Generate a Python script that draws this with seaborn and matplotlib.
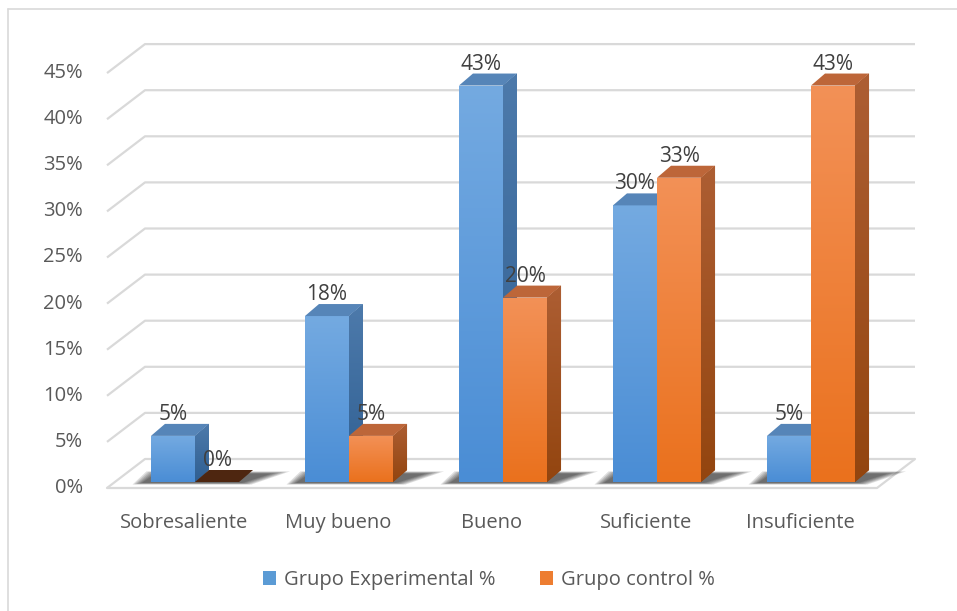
import numpy as np
import pandas as pd
import matplotlib
matplotlib.use("Agg")
import matplotlib.pyplot as plt
import seaborn as sns
from matplotlib.patches import Polygon, Patch
from matplotlib.lines import Line2D
from matplotlib.colors import LinearSegmentedColormap

# ---- data -------------------------------------------------------------
categorias = ["Sobresaliente", "Muy bueno", "Bueno", "Suficiente", "Insuficiente"]
grupos = ["Grupo Experimental %", "Grupo control %"]
experimental = [5, 18, 43, 30, 5]
control = [0, 5, 20, 33, 43]
y_ticks = [0, 5, 10, 15, 20, 25, 30, 35, 40, 45]

df = pd.DataFrame({
    "categoria": categorias * 2,
    "grupo": [grupos[0]] * len(categorias) + [grupos[1]] * len(categorias),
    "valor": experimental + control,
})

# ---- styling ----------------------------------------------------------
sns.set_theme(style="white")
plt.rcParams["font.family"] = ["Open Sans", "DejaVu Sans"]

W, H = 957, 611
PX = 154.0      # pixels per category step
PY = 9.22       # pixels per percentage point
X0, Y0 = 195.0, 482.0   # pixel position of the first category / zero level

# face colours: (front top, front bottom, side top, side bottom, top face)
FACES = [
    ("#74aae1", "#4a8dd5", "#4d7aab", "#2f5f92", "#5685b8"),
    ("#f39157", "#ea711d", "#ad5e33", "#93450f", "#bd6639"),
]
LEGEND_COLORS = ["#5b9bd5", "#ed7d31"]
GRID = "#d9d9d9"
TXT = "#595959"
LBL = "#404040"
FS = 14.5

# depth of each bar and offsets of the front / back walls (data units)
BDX, BDY = 14 / PX, 12 / PY
FX, FY = -11 / PX, -6 / PY
WDX, WDY = 38 / PX, 29 / PY

fig = plt.figure(figsize=(W / 100, H / 100), dpi=100)
ax = fig.add_axes([0, 0, 1, 1])

sns.barplot(data=df, x="categoria", y="valor", hue="grupo",
            palette=LEGEND_COLORS, width=0.572, saturation=1,
            errorbar=None, legend=False, ax=ax, zorder=3)


def gradient_patch(verts, c_top, c_bottom, z):
    poly = Polygon(verts, closed=True, facecolor=c_bottom, edgecolor="none",
                   zorder=z, transform=ax.transData)
    ax.add_patch(poly)
    xs = [v[0] for v in verts]
    ys = [v[1] for v in verts]
    cmap = LinearSegmentedColormap.from_list("g", [c_top, c_bottom])
    im = ax.imshow(np.linspace(0, 1, 256).reshape(-1, 1), cmap=cmap,
                   extent=(min(xs), max(xs), min(ys), max(ys)),
                   origin="upper", aspect="auto", zorder=z,
                   interpolation="bilinear")
    im.set_clip_path(poly)
    return poly


# ---- walls: gridlines and floor ---------------------------------------
n = len(categorias)
fl, fr = -0.5 + FX, n - 0.5 + FX
bl, br = fl + WDX, fr + WDX
for t in y_ticks:
    yf, yb = t + FY, t + FY + WDY
    ax.plot([fl, bl, br], [yf, yb, yb], color=GRID, lw=1.6, zorder=1,
            solid_capstyle="butt")
    ax.annotate(f"{t}%", (fl, yf), xytext=(-24 * 0.72, 0),
                textcoords="offset points", ha="right", va="center",
                fontsize=FS, color=TXT)
ax.plot([fl, fr, br], [FY, FY, FY + WDY], color=GRID, lw=1.6, zorder=1)

for i, cat in enumerate(categorias):
    ax.annotate(cat, (i + FX, FY), xytext=(0, -35 * 0.72),
                textcoords="offset points", ha="center", va="center",
                fontsize=FS, color=TXT)

# ---- soft floor shadows under each pair of bars ----------------------
left_bars = ax.containers[0]
right_bars = ax.containers[1]
for b_l, b_r in zip(left_bars, right_bars):
    xa = b_l.get_x()
    xb = b_r.get_x() + b_r.get_width()
    for k in range(6):
        ex = 0.012 * k
        ey = 0.12 * k
        verts = [(xa - 0.06 - ex, -0.1 - ey * 0.3),
                 (xb + 0.02 + ex, -0.1 - ey * 0.3),
                 (xb + BDX + 0.12 + 2 * ex, BDY * 0.7 + ey * 0.4),
                 (xa + BDX - 0.06 - ex, BDY * 0.7 + ey * 0.4)]
        ax.add_patch(Polygon(verts, closed=True, facecolor="black",
                             edgecolor="none", alpha=0.13, zorder=2))

# ---- bars with depth ---------------------------------------------------
for s, cont in enumerate(ax.containers):
    ftop, fbot, stop, sbot, topc = FACES[s]
    z = 3 + s
    for rect in cont:
        x, w, h = rect.get_x(), rect.get_width(), rect.get_height()
        rect.set_visible(False)
        if h > 0:
            gradient_patch([(x, 0), (x + w, 0), (x + w, h), (x, h)],
                           ftop, fbot, z)
            gradient_patch([(x + w, 0), (x + w + BDX, BDY),
                            (x + w + BDX, h + BDY), (x + w, h)],
                           stop, sbot, z + 0.2)
            tc = topc
        else:
            tc = "#4e2610"
        ax.add_patch(Polygon([(x, h), (x + w, h), (x + w + BDX, h + BDY),
                              (x + BDX, h + BDY)], closed=True,
                             facecolor=tc, edgecolor="none", zorder=z + 0.3))
        ax.annotate(f"{h:.0f}%", (x + w / 2, h), xytext=(0, 11 * 0.72),
                    textcoords="offset points", ha="center", va="bottom",
                    fontsize=FS + 0.5, color=LBL, zorder=6)

ax.set_xlim(-X0 / PX, (W - X0) / PX)
ax.set_ylim((Y0 - H) / PY, Y0 / PY)
ax.set_axis_off()

# ---- legend ------------------------------------------------------------
handles = [Patch(facecolor=c, edgecolor="none") for c in LEGEND_COLORS]
fig.legend(handles, grupos, loc="center", bbox_to_anchor=(489 / W, 1 - 580 / H),
           ncol=2, frameon=False, fontsize=FS, handlelength=0.65,
           handleheight=0.65, handletextpad=0.4, columnspacing=2.2,
           labelcolor=TXT)

# ---- chart frame -------------------------------------------------------
fig.add_artist(Line2D([8 / W, 1], [1 - 9 / H, 1 - 9 / H], color=GRID, lw=1.2,
                      transform=fig.transFigure))
fig.add_artist(Line2D([8 / W, 8 / W], [0, 1 - 9 / H], color=GRID, lw=1.2,
                      transform=fig.transFigure))

fig.savefig("out.png", dpi=100, facecolor="white")
